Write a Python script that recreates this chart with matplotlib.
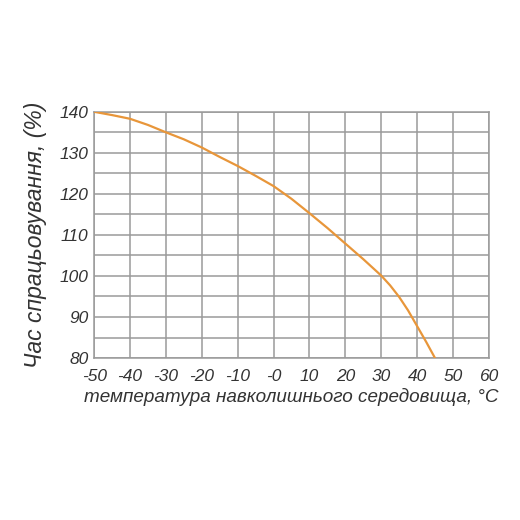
# Час спрацьовування vs температура

import matplotlib
matplotlib.use('Agg')
import matplotlib.pyplot as plt

# data
temps = [-50, -45, -40, -35, -30, -25, -20, -15, -10, -5, 0, 5, 10, 15, 20, 25, 30,
         32.5, 35, 37.5, 40, 42.5, 45]
vals = [140, 139.2, 138.3, 136.8, 135, 133.3, 131.3, 129.0, 126.8, 124.4, 121.9, 118.8,
        115.3, 111.7, 107.9, 104.1, 100.1, 97.7, 94.9, 91.6, 87.8, 84.0, 80]

xticks = list(range(-50, 61, 10))
xlabels = ['-50', '-40', '-30', '-20', '-10', '-0', '10', '20', '30', '40', '50', '60']
yticks = list(range(80, 141, 10))
yminor = list(range(85, 140, 10))

fam = ['Liberation Sans', 'DejaVu Sans']
txt = '#333333'

# plot
fig = plt.figure(figsize = (5.2, 5.2), dpi = 100)
ax = fig.add_axes([0.181, 0.3115, 0.759, 0.4735])

ax.plot(temps, vals, color = '#E8963A', linewidth = 1.6, zorder = 3)

ax.set_xlim(-50, 60)
ax.set_ylim(80, 140)
ax.set_xticks(xticks)
ax.set_xticklabels(xlabels)
ax.set_yticks(yticks)
ax.set_yticks(yminor, minor = True)

ax.grid(True, which = 'both', color = '#9A9A9A', linewidth = 1.1)
ax.set_axisbelow(True)
for s in ax.spines.values():
    s.set_color('#9A9A9A')
    s.set_linewidth(1.1)

ax.tick_params(which = 'both', length = 0)
ax.tick_params(axis = 'x', pad = 8)
ax.tick_params(axis = 'y', pad = 4)
for lab in ax.get_xticklabels() + ax.get_yticklabels():
    lab.set_family(fam)
    lab.set_style('italic')
    lab.set_fontsize(12.5)
    lab.set_color(txt)

ax.set_xlabel('температура навколишнього середовища, °С', family = fam, style = 'italic',
              fontsize = 13.6, color = txt, labelpad = 3)
ax.set_ylabel('Час спрацьовування, (%)', family = fam, style = 'italic',
              fontsize = 16.5, color = txt, labelpad = 9)

fig.savefig('out.png', dpi = 100, facecolor = 'white')
